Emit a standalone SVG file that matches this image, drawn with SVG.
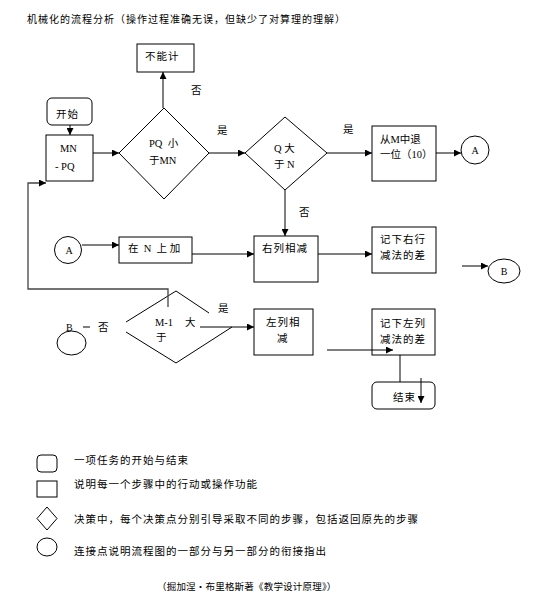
<svg xmlns="http://www.w3.org/2000/svg" width="536" height="602" viewBox="0 0 536 602">
<defs>
<marker id="ah" viewBox="0 0 10 10" refX="10" refY="5" markerWidth="7" markerHeight="7" markerUnits="userSpaceOnUse" orient="auto"><path d="M0,0 L10,5 L0,10 z" fill="#000"/></marker>
</defs>
<style>
text{font-family:"Liberation Serif","Noto Sans CJK SC",serif;font-size:10.5px;fill:#000}
.cn{letter-spacing:1px}
.node{fill:#fff;stroke:#000;stroke-width:1}
.ln{fill:none;stroke:#000;stroke-width:1}
.arr{fill:none;stroke:#000;stroke-width:1;marker-end:url(#ah)}
.mid{text-anchor:middle}
</style>
<rect width="536" height="602" fill="#fff"/>
<text x="27" y="23" class="cn" style="font-size:10px">机械化的流程分析（操作过程准确无误，但缺少了对算理的理解）</text>

<g id="n_bunengji"><rect class="node" x="137" y="44" width="57" height="28"/><text x="145" y="60" class="cn">不能计</text></g>
<text x="191" y="94">否</text>

<g id="n_start"><rect class="node" x="47" y="98" width="45" height="27" rx="5"/><text x="56" y="118" class="cn">开始</text></g>

<g id="n_mnpq"><rect class="node" x="46" y="135" width="47" height="46"/><text x="60" y="152">MN</text><text x="55" y="170">- PQ</text></g>

<g id="n_d1"><polygon class="node" points="164,108 209,153 164,199 119,153"/><text x="149" y="147" xml:space="preserve">PQ  小</text><text x="149" y="164">于MN</text></g>
<text x="217" y="134">是</text>

<g id="n_d2"><polygon class="node" points="285,117 327,153 285,190 245,153"/><text x="274" y="152" xml:space="preserve">Q 大</text><text x="274" y="168" xml:space="preserve">于 N</text></g>
<text x="343" y="133">是</text>
<text x="299" y="216">否</text>

<g id="n_tui"><rect class="node" x="372" y="126" width="64" height="55"/><text x="380" y="143">从M中退</text><text x="380" y="158">一位（10）</text></g>

<g id="n_A1"><circle class="node" cx="475" cy="150" r="14"/><text x="475" y="154" class="mid" style="font-size:10px">A</text></g>

<g id="n_A2"><circle class="node" cx="68" cy="250" r="13.5"/><text x="69" y="254" class="mid" style="font-size:10px">A</text></g>

<g id="n_add"><rect class="node" x="119" y="237" width="73" height="26"/><text x="128" y="252" xml:space="preserve">在  N  上 加</text></g>

<g id="n_right"><rect class="node" x="254" y="236" width="64" height="46"/><text x="262" y="252" class="cn">右列相减</text></g>

<g id="n_recr"><rect class="node" x="372" y="227" width="64" height="46"/><text x="380" y="243" class="cn">记下右行</text><text x="380" y="259" class="cn">减法的差</text></g>

<g id="n_B1"><ellipse class="node" cx="504" cy="271" rx="16" ry="12"/><text x="504" y="275" class="mid" style="font-size:10px">B</text></g>

<g id="n_d3"><path class="ln" d="M126,322 L176,291 L209,313"/><path class="ln" d="M126,332 L176,363 L232,327"/><text x="155" y="326" xml:space="preserve">M-1  </text><text x="185" y="326">大</text><text x="156" y="341">于</text></g>
<text x="218" y="312">是</text>

<g id="n_B2"><ellipse class="node" cx="71.5" cy="343" rx="14.5" ry="12"/><text x="66" y="331" style="font-size:10px">B</text></g>
<text x="98" y="331">否</text>

<g id="n_left"><rect class="node" x="254" y="309" width="59" height="46"/><text x="266" y="326" class="cn">左列相</text><text x="277" y="342">减</text></g>

<g id="n_recl"><rect class="node" x="372" y="309" width="63" height="46"/><text x="380" y="327" class="cn">记下左列</text><text x="380" y="343" class="cn">减法的差</text></g>

<g id="n_end"><rect class="node" x="372" y="382" width="63" height="27" rx="5"/><text x="393" y="401" class="cn">结束</text></g>

<g id="connectors">
<path class="arr" d="M163,108 L163,72"/>
<path class="arr" d="M70,125 L70,135"/>
<path class="arr" d="M93,153 L119,153"/>
<path class="arr" d="M209,153 L245,153"/>
<path class="arr" d="M327,153 L372,153"/>
<path class="arr" d="M436,153 L461,153"/>
<path class="arr" d="M285,190 L285,236"/>
<path class="arr" d="M82,245 L119,245"/>
<path class="arr" d="M192,254 L254,254"/>
<path class="arr" d="M318,254 L372,254"/>
<path class="arr" d="M462,266 L488,266"/>
<path d="M168,307 L168,289 L28,289 L28,183 L46,183" fill="none" stroke="#444" stroke-width="1.3" marker-end="url(#ah)"/>
<path class="arr" d="M200,327 L254,327"/>
<path class="arr" d="M327,350 L393,350"/>
<path class="ln" d="M400,355 L400,382"/>
<path class="arr" d="M421,378 L421,403"/>
<path class="ln" d="M83,327 L90,327"/>
</g>

<g id="legend">
<rect class="node" x="37" y="455" width="20" height="17" rx="4"/>
<text x="74" y="464" class="cn">一项任务的开始与结束</text>
<rect class="node" x="37" y="481" width="20" height="16"/>
<text x="74" y="488" class="cn">说明每一个步骤中的行动或操作功能</text>
<polygon class="node" points="47,507 57,518.5 47,530 37,518.5"/>
<text x="74" y="523" class="cn">决策中，每个决策点分别引导采取不同的步骤，包括返回原先的步骤</text>
<ellipse class="node" cx="47" cy="547" rx="10" ry="9"/>
<text x="74" y="555" class="cn">连接点说明流程图的一部分与另一部分的衔接指出</text>
</g>
<text x="157" y="590" style="font-size:9.5px;letter-spacing:0.2px">（掘加涅・布里格斯著《教学设计原理》）</text>
</svg>
